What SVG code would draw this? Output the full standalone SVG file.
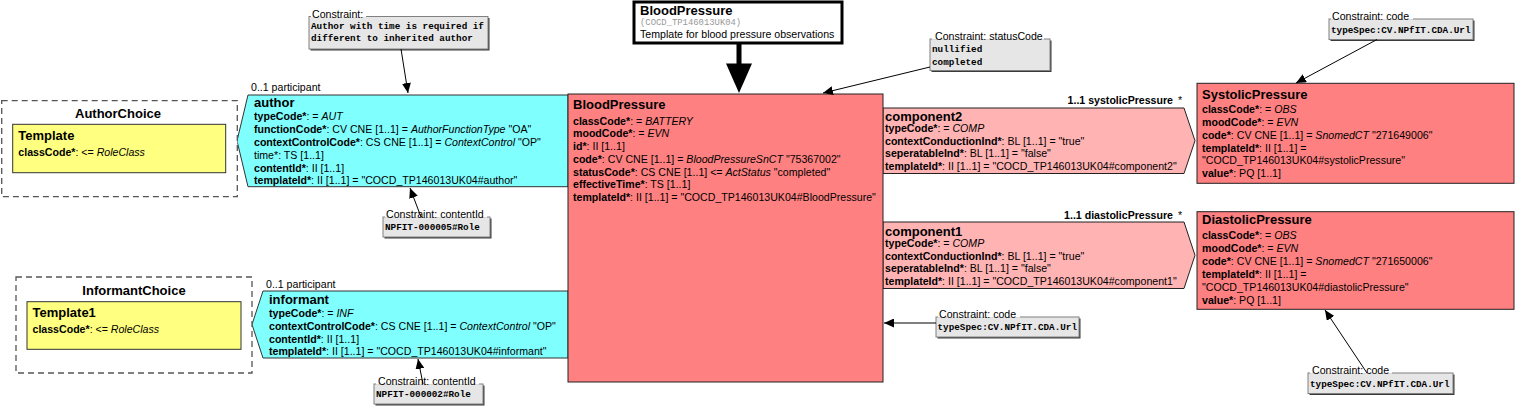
<svg xmlns="http://www.w3.org/2000/svg" width="1516" height="406" viewBox="0 0 1516 406">
<style>
text{font-family:"Liberation Sans",Arial,sans-serif;font-size:10.6px;fill:#000}
.b{font-weight:bold}
.i{font-style:italic}
.t{font-weight:bold;font-size:13px}
.m{font-family:"Liberation Mono","Courier New",monospace;font-size:9.3px;font-weight:bold}
.mg{font-family:"Liberation Mono","Courier New",monospace;font-size:8.9px;fill:#999}
.cb{fill:#e6e6e6;stroke:#808080;stroke-width:1}
.sh{fill:#3a3a3a}
.wb{fill:#fff}
.dash{fill:#fff;stroke:#555;stroke-width:1.3;stroke-dasharray:6 4}
.yel{fill:#ffff80;stroke:#333;stroke-width:1}
.cyan{fill:#80ffff;stroke:#333;stroke-width:1}
.red{fill:#ff8080;stroke:#222;stroke-width:1}
.pink{fill:#ffb3b3;stroke:#222;stroke-width:1}
.ln{stroke:#000;stroke-width:1;fill:none;marker-end:url(#ah)}
</style>
<defs>
<marker id="ah" markerUnits="userSpaceOnUse" markerWidth="10" markerHeight="9" refX="10" refY="4.5" orient="auto">
<path d="M0,0 L10,4.5 L0,9 z" fill="#000"/>
</marker>
</defs>

<g id="associations">
<g id="author">
<text x="251" y="91">0..1 participant</text>
<polygon class="cyan" points="248,95 568,95 568,186.7 248,186.7 237,140.8"/>
<text x="254" y="106.5" class="t">author</text>
<text x="254" y="120.4"><tspan class="b">typeCode*</tspan>: = <tspan class="i">AUT</tspan></text>
<text x="254" y="133.2"><tspan class="b">functionCode*</tspan>: CV CNE [1..1] = <tspan class="i">AuthorFunctionType</tspan> "OA"</text>
<text x="254" y="146"><tspan class="b">contextControlCode*</tspan>: CS CNE [1..1] = <tspan class="i">ContextControl</tspan> "OP"</text>
<text x="254" y="158.8">time*: TS [1..1]</text>
<text x="254" y="171.6"><tspan class="b">contentId*</tspan>: II [1..1]</text>
<text x="254" y="184.4"><tspan class="b">templateId*</tspan>: II [1..1] = "COCD_TP146013UK04#author"</text>
</g>
<g id="informant">
<text x="266" y="287.5">0..1 participant</text>
<polygon class="cyan" points="263,291 568,291 568,358 263,358 252,324.5"/>
<text x="269" y="304" class="t">informant</text>
<text x="269" y="317"><tspan class="b">typeCode*</tspan>: = <tspan class="i">INF</tspan></text>
<text x="269" y="329.8"><tspan class="b">contextControlCode*</tspan>: CS CNE [1..1] = <tspan class="i">ContextControl</tspan> "OP"</text>
<text x="269" y="342.6"><tspan class="b">contentId*</tspan>: II [1..1]</text>
<text x="269" y="355.4"><tspan class="b">templateId*</tspan>: II [1..1] = "COCD_TP146013UK04#informant"</text>
</g>
<g id="component2">
<text x="1173" y="103.5" class="b" text-anchor="end">1..1 systolicPressure</text>
<text x="1178" y="103.5">*</text>
<polygon class="pink" points="883,108 1184,108 1195,140.7 1184,173.5 883,173.5"/>
<text x="885" y="121" class="t">component2</text>
<text x="885" y="132.1"><tspan class="b">typeCode*</tspan>: = <tspan class="i">COMP</tspan></text>
<text x="885" y="144.7"><tspan class="b">contextConductionInd*</tspan>: BL [1..1] = "true"</text>
<text x="885" y="157.3"><tspan class="b">seperatableInd*</tspan>: BL [1..1] = "false"</text>
<text x="885" y="169.9"><tspan class="b">templateId*</tspan>: II [1..1] = "COCD_TP146013UK04#component2"</text>
</g>
<g id="component1">
<text x="1173" y="218.5" class="b" text-anchor="end">1..1 diastolicPressure</text>
<text x="1178" y="218.5">*</text>
<polygon class="pink" points="883,222 1184,222 1195,255.3 1184,288.5 883,288.5"/>
<text x="885" y="236" class="t">component1</text>
<text x="885" y="247.1"><tspan class="b">typeCode*</tspan>: = <tspan class="i">COMP</tspan></text>
<text x="885" y="259.7"><tspan class="b">contextConductionInd*</tspan>: BL [1..1] = "true"</text>
<text x="885" y="272.3"><tspan class="b">seperatableInd*</tspan>: BL [1..1] = "false"</text>
<text x="885" y="284.9"><tspan class="b">templateId*</tspan>: II [1..1] = "COCD_TP146013UK04#component1"</text>
</g>
</g>

<g id="AuthorChoice">
<rect class="dash" x="1.7" y="100.7" width="235.6" height="96"/>
<text x="118" y="117.5" class="t" text-anchor="middle">AuthorChoice</text>
<rect class="yel" x="12.7" y="124.3" width="213" height="48.4"/>
<text x="18.3" y="139.5" class="t">Template</text>
<text x="18.3" y="155.5"><tspan class="b">classCode*</tspan>: &lt;= <tspan class="i">RoleClass</tspan></text>
</g>

<g id="InformantChoice">
<rect class="dash" x="16" y="277" width="236" height="96"/>
<text x="134" y="294.7" class="t" text-anchor="middle">InformantChoice</text>
<rect class="yel" x="27" y="301.7" width="214" height="47.6"/>
<text x="32.5" y="316.9" class="t">Template1</text>
<text x="32.5" y="332.9"><tspan class="b">classCode*</tspan>: &lt;= <tspan class="i">RoleClass</tspan></text>
</g>

<g id="BloodPressure">
<rect class="red" x="568" y="94" width="315" height="288"/>
<text x="573" y="108.5" class="t">BloodPressure</text>
<text x="573" y="124.5"><tspan class="b">classCode*</tspan>: = <tspan class="i">BATTERY</tspan></text>
<text x="573" y="137.25"><tspan class="b">moodCode*</tspan>: = <tspan class="i">EVN</tspan></text>
<text x="573" y="150"><tspan class="b">id*</tspan>: II [1..1]</text>
<text x="573" y="162.75"><tspan class="b">code*</tspan>: CV CNE [1..1] = <tspan class="i">BloodPressureSnCT</tspan> "75367002"</text>
<text x="573" y="175.5"><tspan class="b">statusCode*</tspan>: CS CNE [1..1] &lt;= <tspan class="i">ActStatus</tspan> "completed"</text>
<text x="573" y="188.25"><tspan class="b">effectiveTime*</tspan>: TS [1..1]</text>
<text x="573" y="201"><tspan class="b">templateId*</tspan>: II [1..1] = "COCD_TP146013UK04#BloodPressure"</text>
</g>

<g id="SystolicPressure">
<rect class="red" x="1197" y="83.3" width="317" height="100"/>
<text x="1202" y="98.5" class="t">SystolicPressure</text>
<text x="1202" y="112.8"><tspan class="b">classCode*</tspan>: = <tspan class="i">OBS</tspan></text>
<text x="1202" y="125.7"><tspan class="b">moodCode*</tspan>: = <tspan class="i">EVN</tspan></text>
<text x="1202" y="138.6"><tspan class="b">code*</tspan>: CV CNE [1..1] = <tspan class="i">SnomedCT</tspan> "271649006"</text>
<text x="1202" y="151.5"><tspan class="b">templateId*</tspan>: II [1..1] =</text>
<text x="1202" y="164.4">"COCD_TP146013UK04#systolicPressure"</text>
<text x="1202" y="177.3"><tspan class="b">value*</tspan>: PQ [1..1]</text>
</g>

<g id="DiastolicPressure">
<rect class="red" x="1197" y="211.7" width="317" height="97.6"/>
<text x="1202" y="224" class="t">DiastolicPressure</text>
<text x="1202" y="239"><tspan class="b">classCode*</tspan>: = <tspan class="i">OBS</tspan></text>
<text x="1202" y="251.9"><tspan class="b">moodCode*</tspan>: = <tspan class="i">EVN</tspan></text>
<text x="1202" y="264.8"><tspan class="b">code*</tspan>: CV CNE [1..1] = <tspan class="i">SnomedCT</tspan> "271650006"</text>
<text x="1202" y="277.7"><tspan class="b">templateId*</tspan>: II [1..1] =</text>
<text x="1202" y="290.6">"COCD_TP146013UK04#diastolicPressure"</text>
<text x="1202" y="303.5"><tspan class="b">value*</tspan>: PQ [1..1]</text>
</g>

<g id="TemplateTitle">
<rect x="634" y="2" width="208" height="41" fill="#fff" stroke="#000" stroke-width="3"/>
<text x="640" y="15" class="t">BloodPressure</text>
<text x="640" y="25" class="mg">(COCD_TP146013UK04)</text>
<text x="640" y="38">Template for blood pressure observations</text>
</g>

<g id="constraint-author">
<rect class="sh" x="310.5" y="18" width="179" height="32.5"/>
<rect class="cb" x="309" y="16.5" width="179" height="32.5"/>
<rect class="wb" x="311" y="7" width="55" height="10"/>
<text x="312" y="17.5">Constraint:</text>
<text x="311" y="28.5" class="m">Author with time is required if</text>
<text x="311" y="41" class="m">different to inherited author</text>
</g>

<g id="constraint-author-contentId">
<rect class="sh" x="384.5" y="218.5" width="107" height="20"/>
<rect class="cb" x="383" y="217" width="107" height="20"/>
<rect class="wb" x="385" y="207.5" width="102" height="10"/>
<text x="386" y="218">Constraint: contentId</text>
<text x="385" y="230" class="m">NPFIT-000005#Role</text>
</g>

<g id="constraint-informant-contentId">
<rect class="sh" x="375.5" y="385.5" width="109" height="20"/>
<rect class="cb" x="374" y="384" width="109" height="20"/>
<rect class="wb" x="376" y="374.5" width="103" height="10"/>
<text x="378" y="385">Constraint: contentId</text>
<text x="376" y="397" class="m">NPFIT-000002#Role</text>
</g>

<g id="constraint-statusCode">
<rect class="sh" x="931.5" y="40.5" width="120" height="31.5"/>
<rect class="cb" x="930" y="39" width="120" height="31.5"/>
<rect class="wb" x="932" y="29.5" width="112" height="10"/>
<text x="935" y="40">Constraint: statusCode</text>
<text x="932" y="52" class="m">nullified</text>
<text x="932" y="64.5" class="m">completed</text>
</g>

<g id="constraint-code-bp">
<rect class="sh" x="937.5" y="318.5" width="143" height="20"/>
<rect class="cb" x="936" y="317" width="143" height="20"/>
<rect class="wb" x="938" y="307.5" width="82" height="10"/>
<text x="939" y="318">Constraint: code</text>
<text x="937.5" y="330" class="m">typeSpec:CV.NPfIT.CDA.Url</text>
</g>

<g id="constraint-code-systolic">
<rect class="sh" x="1330.5" y="20.5" width="144" height="20.5"/>
<rect class="cb" x="1329" y="19" width="144" height="20.5"/>
<rect class="wb" x="1331" y="9.5" width="82" height="10"/>
<text x="1332" y="20">Constraint: code</text>
<text x="1331" y="32.5" class="m">typeSpec:CV.NPfIT.CDA.Url</text>
</g>

<g id="constraint-code-diastolic">
<rect class="sh" x="1309.5" y="374.5" width="145" height="20.5"/>
<rect class="cb" x="1308" y="373" width="145" height="20.5"/>
<rect class="wb" x="1310" y="363.5" width="82" height="10"/>
<text x="1312" y="374">Constraint: code</text>
<text x="1310" y="386.5" class="m">typeSpec:CV.NPfIT.CDA.Url</text>
</g>

<g id="connectors">
<rect x="736.5" y="43" width="5" height="22" fill="#000"/>
<polygon points="726,63.5 752,63.5 739,93" fill="#000"/>
<line class="ln" x1="401" y1="49" x2="408" y2="93"/>
<line class="ln" x1="421" y1="217" x2="410" y2="188"/>
<line class="ln" x1="423" y1="384" x2="418" y2="359"/>
<line class="ln" x1="930" y1="67" x2="823" y2="93"/>
<line class="ln" x1="936" y1="323" x2="884" y2="323"/>
<line class="ln" x1="1377" y1="39.5" x2="1296" y2="83"/>
<line class="ln" x1="1367" y1="373" x2="1325" y2="310"/>
</g>
</svg>
